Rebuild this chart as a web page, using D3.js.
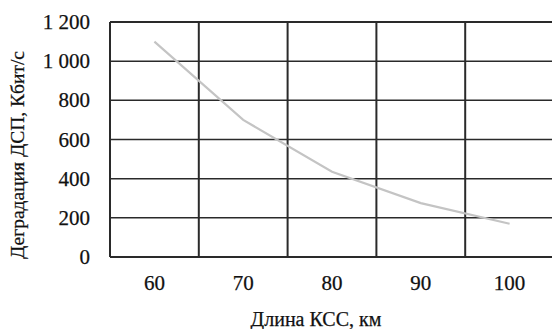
<!DOCTYPE html>
<html>
<head>
<meta charset="utf-8">
<script src="https://cdn.jsdelivr.net/npm/d3@7"></script>
<style>
  html, body { margin: 0; padding: 0; background: #fff; }
  svg { display: block; }
  text { font-family: "Liberation Serif", "DejaVu Serif", serif; fill: #111; stroke: #111; stroke-width: 0.25; }
</style>
</head>
<body>
<svg id="chart" width="552" height="329"></svg>
<script>
// Fibre link length (km) vs. throughput degradation (kbit/s)
const lengthsKm = [60, 70, 80, 90, 100];
const degradation = [1100, 700, 435, 275, 170];
const xTickLabels = [60, 70, 80, 90, 100];
const xGridLines = [55, 65, 75, 85, 95, 105];
const yTicks = [0, 200, 400, 600, 800, 1000, 1200];
const yTitle = "Деградация ДСП, Кбит/с";
const xTitle = "Длина КСС, км";

const svg = d3.select("#chart");
const plot = { left: 110, right: 554, top: 22, bottom: 257 };

const x = d3.scaleLinear().domain([55, 105]).range([plot.left, plot.right]);
const y = d3.scaleLinear().domain([0, 1200]).range([plot.bottom, plot.top]);

const fmt = v => d3.format(",")(v).replace(/,/g, "\u00a0");

// horizontal grid lines
svg.append("g").selectAll("line").data(yTicks).join("line")
  .attr("x1", plot.left).attr("x2", 552)
  .attr("y1", d => y(d)).attr("y2", d => y(d))
  .attr("stroke", "#2a2a2a")
  .attr("stroke-width", d => (d === 0 || d === 1200) ? 2 : 1.5);

// vertical grid lines
svg.append("g").selectAll("line").data(xGridLines).join("line")
  .attr("x1", d => x(d)).attr("x2", d => x(d))
  .attr("y1", plot.top).attr("y2", plot.bottom)
  .attr("stroke", "#2a2a2a").attr("stroke-width", 2);

// y tick labels
svg.append("g").selectAll("text").data(yTicks).join("text")
  .attr("x", 90).attr("y", d => y(d) + 7)
  .attr("text-anchor", "end").attr("font-size", 21)
  .text(d => fmt(d));

// x tick labels
svg.append("g").selectAll("text").data(xTickLabels).join("text")
  .attr("x", d => x(d)).attr("y", 290)
  .attr("text-anchor", "middle").attr("font-size", 21)
  .text(d => d);

// data line
const line = d3.line().x((d, i) => x(lengthsKm[i])).y(d => y(d));
svg.append("path").datum(degradation)
  .attr("d", line).attr("fill", "none")
  .attr("stroke", "#c4c4c4").attr("stroke-width", 2.2);

// axis titles
svg.append("text")
  .attr("transform", `translate(24,155) rotate(-90)`)
  .attr("text-anchor", "middle").attr("font-size", 19.5)
  .text(yTitle);

svg.append("text")
  .attr("x", 316).attr("y", 326)
  .attr("text-anchor", "middle").attr("font-size", 20)
  .text(xTitle);
</script>
</body>
</html>
